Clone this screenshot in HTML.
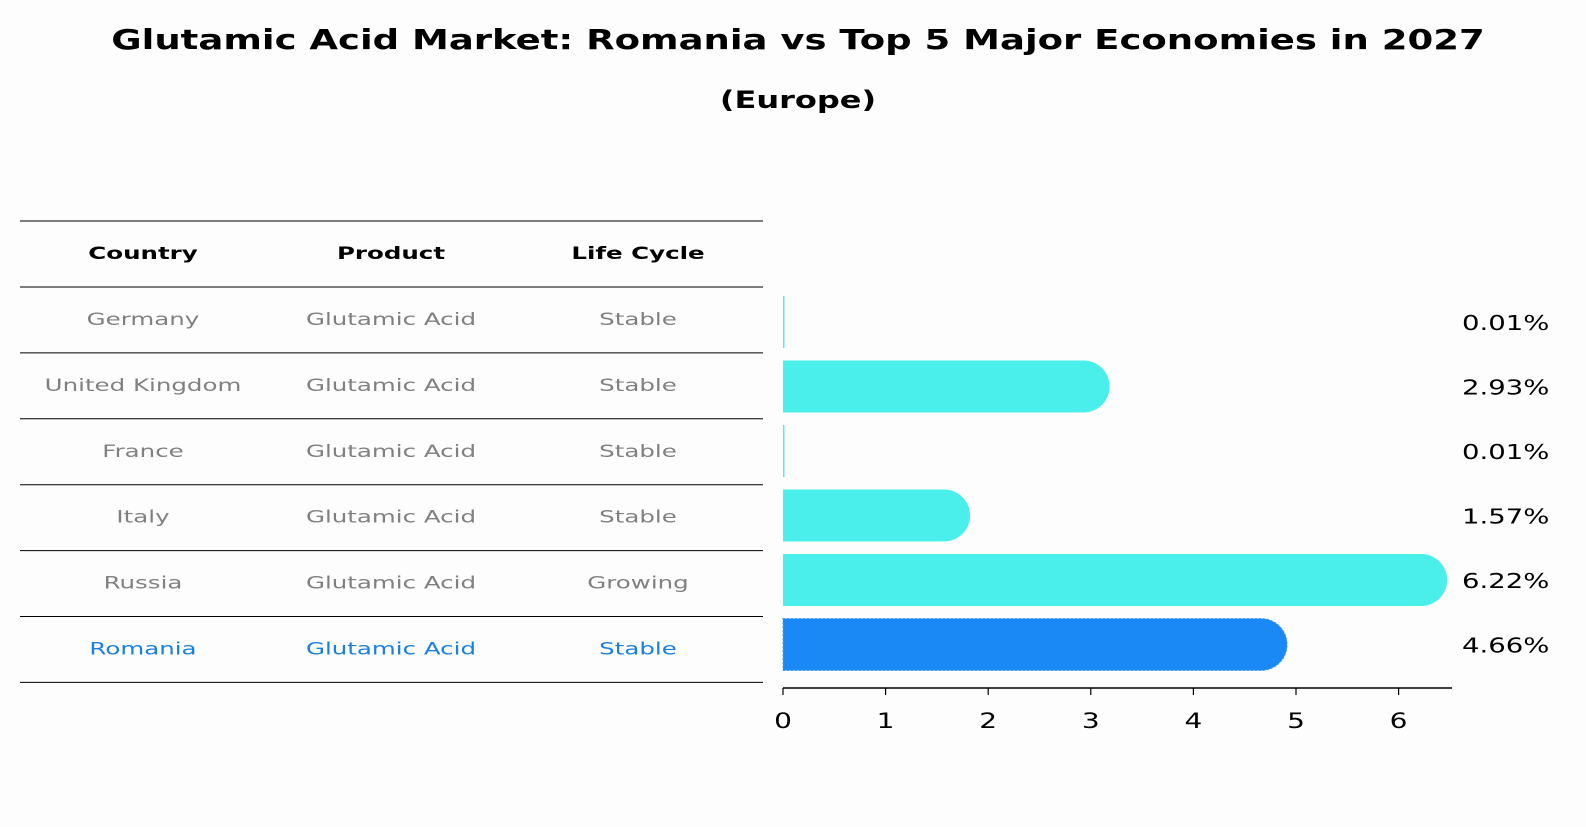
<!DOCTYPE html>
<html><head><meta charset="utf-8"><style>
body{margin:0;background:#fdfdfd;width:1586px;height:823px;overflow:hidden;font-family:"DejaVu Sans","Liberation Sans",sans-serif;}
</style></head><body>
<svg width="1586" height="823" xmlns="http://www.w3.org/2000/svg">
<text class="fit" data-w="37" x="798" y="49" text-anchor="middle" font-size="28" font-weight="bold">Glutamic Acid Market: Romania vs Top 5 Major Economies in 2027</text>
<text class="fit" data-w="32" x="798" y="108" text-anchor="middle" font-size="24" font-weight="bold">(Europe)</text>
<g id="table"></g>
<g id="bars"></g>
</svg>
<script>
const countries=["Germany","United Kingdom","France","Italy","Russia","Romania"];
const products=["Glutamic Acid","Glutamic Acid","Glutamic Acid","Glutamic Acid","Glutamic Acid","Glutamic Acid"];
const lifeCycles=["Stable","Stable","Stable","Stable","Growing","Stable"];
const shares=[0.01,2.93,0.01,1.57,6.22,4.66];
const valueLabels=["0.01%","2.93%","0.01%","1.57%","6.22%","4.66%"];
const xTicks=[0,1,2,3,4,5,6];
const headers=["Country","Product","Life Cycle"];
const NS="http://www.w3.org/2000/svg";
function mk(t,a,p){const e=document.createElementNS(NS,t);for(const k in a)e.setAttribute(k,a[k]);p.appendChild(e);return e;}
const tbl=document.getElementById('table'),bars=document.getElementById('bars');
const colX=[143,391,638];
const rowY=i=>287+i*65.9;
const x=v=>783+v*102.6;
const yC=i=>322+i*64.5;
for(let i=-1;i<=countries.length;i++){const yy=i<0?221:rowY(i);
const l=mk('line',{x1:20,x2:763,y1:yy,y2:yy,stroke:'#000','stroke-width':1},tbl);
}
headers.forEach((h,j)=>{const t=mk('text',{x:colX[j],y:259,'text-anchor':'middle','font-size':17,'font-weight':'bold',class:'fit','data-w':24.5},tbl);t.textContent=h;
});
countries.forEach((c,i)=>{const col=i===countries.length-1?'#1a80e0':'#808080';
[c,products[i],lifeCycles[i]].forEach((v,j)=>{const t=mk('text',{x:colX[j],y:rowY(i)+38,'text-anchor':'middle','font-size':17,fill:col,class:'fit','data-w':24.5},tbl);t.textContent=v;
});});
const h=52,r=26;
shares.forEach((v,i)=>{const last=i===shares.length-1;const col=last?'#1a88f5':'#4aeeea';
const yy=yC(i)-h/2;
const p=mk('path',{d:`M${x(0)},${yy} H${x(v)} A${r},${r} 0 0 1 ${x(v)},${yy+h} H${x(0)} Z`,fill:col},bars);
if(v<0.05)p.setAttribute('d',`M${x(0)},${yy} H${x(0)+1.5} V${yy+h} H${x(0)} Z`);
if(last){p.setAttribute('stroke','#4a9fe0');p.setAttribute('stroke-dasharray','2 2');p.setAttribute('stroke-width','1');}

const t=mk('text',{x:1462,y:yC(i)+8,'font-size':20,class:'fit','data-w':27.5},bars);t.textContent=valueLabels[i];
});
const ax=mk('line',{x1:x(0),x2:1452,y1:688,y2:688,stroke:'#000','stroke-width':1.5},bars);

xTicks.forEach(v=>{const l=mk('line',{x1:x(v),x2:x(v),y1:688,y2:695,stroke:'#000','stroke-width':1.2},bars);

const t=mk('text',{x:x(v),y:728,'text-anchor':'middle','font-size':21,class:'fit','data-w':28},bars);t.textContent=v;
});
document.querySelectorAll('text.fit').forEach(t=>{
const hs=t.getAttribute('font-size');
t.setAttribute('font-size',t.getAttribute('data-w'));
const L=t.getComputedTextLength();
t.setAttribute('font-size',hs);
if(L>0){t.setAttribute('textLength',L);t.setAttribute('lengthAdjust','spacingAndGlyphs');}
});
</script>
</body></html>
